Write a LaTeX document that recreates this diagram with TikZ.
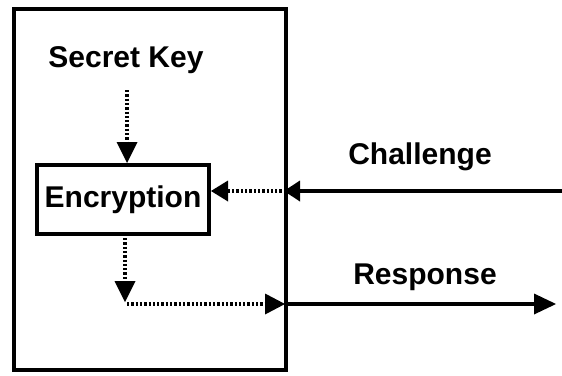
\documentclass[tikz,border=0pt]{standalone}
\usepackage{fontspec}
\setmainfont{Liberation Sans}
\usetikzlibrary{arrows.meta}
\begin{document}
\begin{tikzpicture}[x=1pt,y=-1pt,
  lbl/.style={font=\fontsize{30}{36}\selectfont\bfseries, inner sep=0pt},
  frame/.style={draw, line width=4pt},
  dotline/.style={line width=4pt, dash pattern=on 2.3pt off 2pt},
  solidline/.style={line width=4pt}
]
\useasboundingbox (0,0) rectangle (562,375);
% outer box
\node[frame, minimum width=272pt, minimum height=361pt, inner sep=0pt] (dev) at (150,189.5) {};
% encryption box
\node[frame, minimum width=172pt, minimum height=69pt, inner sep=0pt, lbl] (enc) at (123,199.5) {Encryption};
\node[lbl] (key) at (126,60) {Secret Key};
\node[lbl] (chal) at (420,157) {Challenge};
\node[lbl] (resp) at (425,277) {Response};
% coordinates
\coordinate (k0) at (127,90);
\coordinate (k1) at (127,163);
\coordinate (e0) at (125,238);
\coordinate (e1) at (125,302);
\coordinate (h0) at (127,304);
\coordinate (h1) at (285,304);
\coordinate (r0) at (286,304);
\coordinate (r1) at (556,304);
\coordinate (c0) at (562,191);
\coordinate (c1) at (284,191);
\coordinate (d0) at (286,191);
\coordinate (d1) at (211,191);
% arrows
\draw[dotline, shorten >=18pt] (k0) -- (k1);
\fill (k1) -- ++(-10.5,-21) -- ++(21,0) -- cycle;
\draw[dotline, shorten >=18pt] (e0) -- (e1);
\fill (e1) -- ++(-10.5,-21) -- ++(21,0) -- cycle;
\draw[dotline, shorten >=18pt] (h0) -- (h1);
\fill (h1) -- ++(-20,-10.5) -- ++(0,21) -- cycle;
\draw[solidline, shorten >=18pt] (r0) -- (r1);
\fill (r1) -- ++(-22,-10.5) -- ++(0,21) -- cycle;
\draw[solidline, shorten >=14pt] (c0) -- (c1);
\fill (c1) -- ++(16,-10.5) -- ++(0,21) -- cycle;
\draw[dotline, shorten >=14pt] (d0) -- (d1);
\fill (d1) -- ++(17,-10.5) -- ++(0,21) -- cycle;
\end{tikzpicture}
\end{document}
